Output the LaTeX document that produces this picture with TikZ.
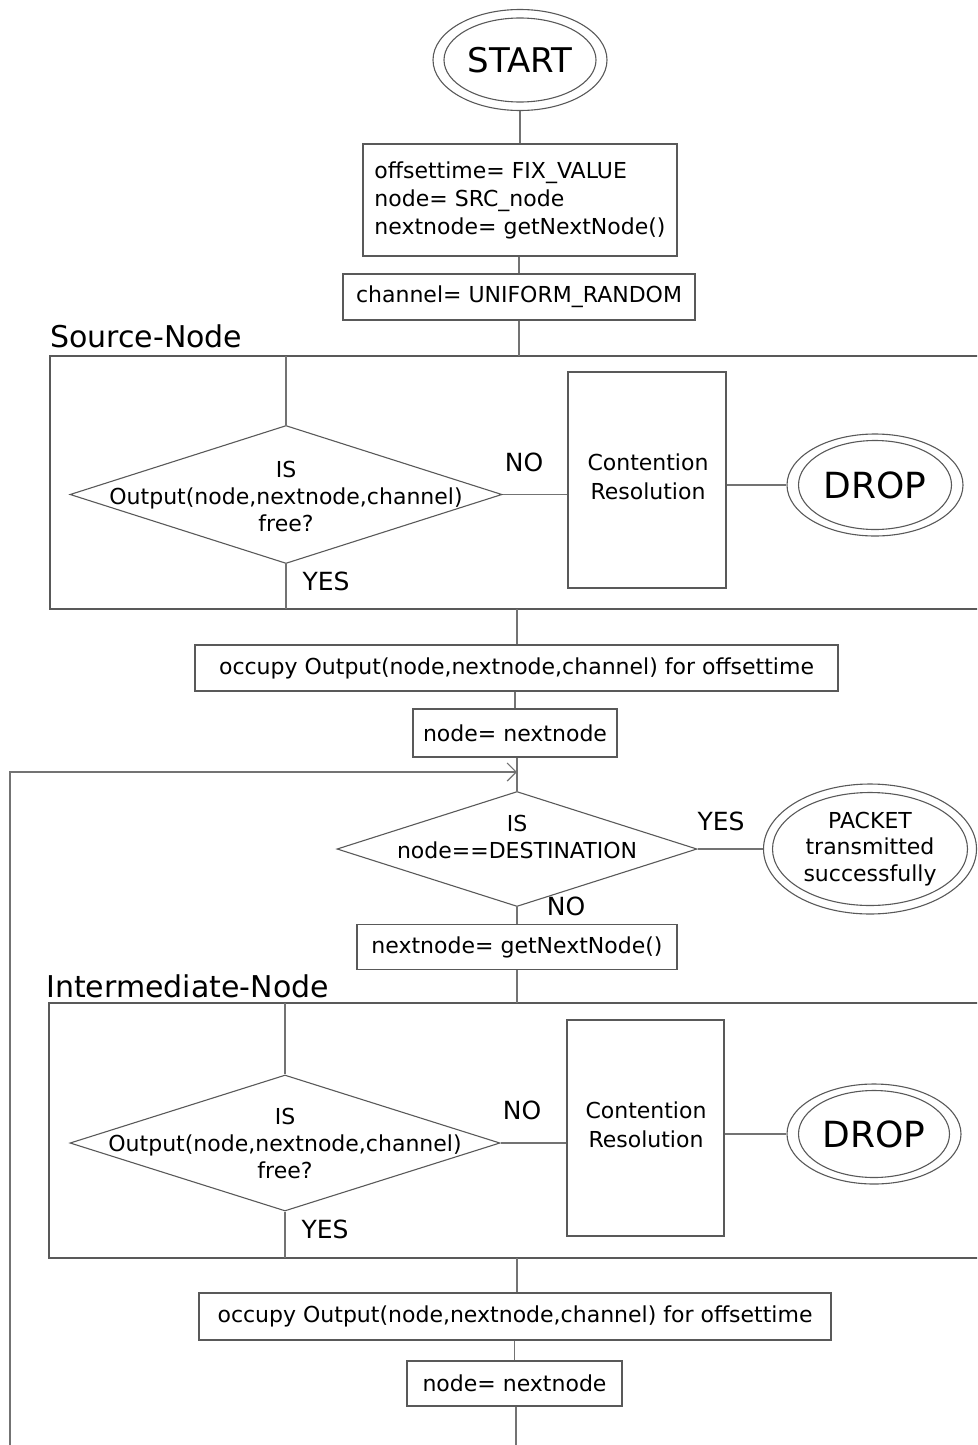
\documentclass[tikz,border=0pt]{standalone}
\usepackage{fontspec}
\setmainfont{DejaVu Sans}
\usetikzlibrary{shapes.geometric,arrows.meta}
\tikzset{
  ln/.style={draw=black!55, line width=1.2pt},
  box/.style={draw=black!65, line width=1.2pt, rectangle, inner sep=0pt, align=center, font=\fontsize{22}{28}\selectfont},
  dia/.style={diamond, draw=black!65, line width=1.1pt, inner sep=0pt},
  ell/.style={ellipse, draw=black!65, line width=1.1pt, inner sep=0pt},
  dtext/.style={inner sep=0pt, align=center, font=\fontsize{22}{27}\selectfont},
  lbl/.style={inner sep=0pt, font=\fontsize{25}{30}\selectfont},
  ttl/.style={inner sep=0pt, anchor=base west, font=\fontsize{30}{36}\selectfont},
  area/.style={draw=black!65, line width=1.2pt, rectangle, inner sep=0pt},
}
\begin{document}
\begin{tikzpicture}[x=1pt,y=-1pt]
\useasboundingbox (0,0) rectangle (977,1445);
\clip (0,0) rectangle (977,1445);
% ---------- top ----------
\node[ell, minimum width=174, minimum height=101] (start) at (520,60) {};
\node[ell, minimum width=152, minimum height=84, font=\fontsize{34}{40}\selectfont] (startin) at (520,60) {START};
\node[box, minimum width=314, minimum height=112, align=left] (init) at (520,200) {offsettime= FIX\_VALUE\\node= SRC\_node\\nextnode= getNextNode()};
\node[box, minimum width=352, minimum height=46] (chan) at (519,297) {channel= UNIFORM\_RANDOM};
% ---------- source node area ----------
\node[ttl] (srct) at (50,347) {Source-Node};
\node[area, minimum width=960, minimum height=253] (src) at (530,482.5) {};
\coordinate (srctop) at (519,356);
\coordinate (srcbot) at (517,609);
\coordinate (sd1top) at (286,356);
\coordinate (sd1bot) at (286,609);
\node[dia, minimum width=432, minimum height=138] (d1) at (286,494.5) {};
\node[dtext] (d1t) at (286,496) {IS\\Output(node,nextnode,channel)\\free?};
\node[lbl] (yes1) at (326,581) {YES};
\node[lbl] (no1) at (524,462) {NO};
\node[box, minimum width=158, minimum height=216] (cr1) at (647,480) {};
\node[dtext, font=\fontsize{22}{29}\selectfont] (cr1t) at (648,477) {Contention\\Resolution};
\node[ell, minimum width=176, minimum height=102] (drop1) at (875,485) {};
\node[ell, minimum width=153, minimum height=89, font=\fontsize{36}{42}\selectfont] (drop1in) at (875,485) {DROP};
% ---------- middle ----------
\node[box, minimum width=643, minimum height=46] (occ1) at (516.5,668) {occupy Output(node,nextnode,channel) for offsettime};
\node[box, minimum width=204, minimum height=48] (nn1) at (515,733) {node= nextnode};
\coordinate (looptip) at (517,772);
\coordinate (loopstart) at (10,1445);
\node[dia, minimum width=360, minimum height=115] (d2) at (517,849) {};
\node[dtext] (d2t) at (517,837) {IS\\node==DESTINATION};
\node[lbl] (yes2) at (721,821) {YES};
\node[lbl] (no2) at (566,906) {NO};
\node[ell, minimum width=213, minimum height=130] (pkt) at (870,849) {};
\node[ell, minimum width=195, minimum height=113, align=center, font=\fontsize{22}{26.5}\selectfont] (pktin) at (870,849) {PACKET\\transmitted\\successfully};
\node[box, minimum width=320, minimum height=45] (nxt) at (517,947) {nextnode= getNextNode()};
% ---------- intermediate node area ----------
\node[ttl] (intt) at (46,997) {Intermediate-Node};
\node[area, minimum width=960, minimum height=255] (inter) at (529,1130.5) {};
\coordinate (inttop) at (517,1003);
\coordinate (intbot) at (517,1258);
\coordinate (sd2top) at (285,1003);
\coordinate (sd2bot) at (285,1258);
\node[dia, minimum width=430, minimum height=136] (d3) at (285,1143) {};
\node[dtext] (d3t) at (285,1143) {IS\\Output(node,nextnode,channel)\\free?};
\node[lbl] (yes3) at (325,1229) {YES};
\node[lbl] (no3) at (522,1110) {NO};
\node[box, minimum width=157, minimum height=216] (cr2) at (645.5,1128) {};
\node[dtext, font=\fontsize{22}{29}\selectfont] (cr2t) at (646,1125) {Contention\\Resolution};
\node[ell, minimum width=174, minimum height=100] (drop2) at (874,1134) {};
\node[ell, minimum width=151, minimum height=87, font=\fontsize{36}{42}\selectfont] (drop2in) at (874,1134) {DROP};
\node[box, minimum width=632, minimum height=47] (occ2) at (515,1316.5) {occupy Output(node,nextnode,channel) for offsettime};
\node[box, minimum width=215, minimum height=45] (nn2) at (514.5,1383.5) {node= nextnode};
\coordinate (bot) at (516,1445);
% ---------- connectors ----------
\draw[ln] (start.south) -- (init.north);
\draw[ln] (init.south -| chan.north) -- (chan.north);
\draw[ln] (chan.south) -- (srctop);
\draw[ln] (sd1top) -- (d1.north);
\draw[ln] (d1.south) -- (sd1bot);
\draw[ln] (d1.east) -- (cr1.west |- d1.east);
\draw[ln] (cr1.east |- drop1.west) -- (drop1.west);
\draw[ln] (srcbot) -- (occ1.north -| srcbot);
\draw[ln] (occ1.south -| nn1.north) -- (nn1.north);
\draw[ln] (nn1.south -| d2.north) -- (d2.north);
\draw[ln, -{Straight Barb[length=9pt,width=18pt]}] (loopstart) |- (looptip);
\draw[ln] (d2.east) -- (pkt.west);
\draw[ln] (d2.south) -- (nxt.north -| d2.south);
\draw[ln] (nxt.south) -- (inttop);
\draw[ln] (sd2top) -- (d3.north);
\draw[ln] (d3.south) -- (sd2bot);
\draw[ln] (d3.east) -- (cr2.west |- d3.east);
\draw[ln] (cr2.east |- drop2.west) -- (drop2.west);
\draw[ln] (intbot) -- (occ2.north -| intbot);
\draw[ln] (occ2.south -| nn2.north) -- (nn2.north);
\draw[ln] (nn2.south -| bot) -- (bot);
\end{tikzpicture}
\end{document}
